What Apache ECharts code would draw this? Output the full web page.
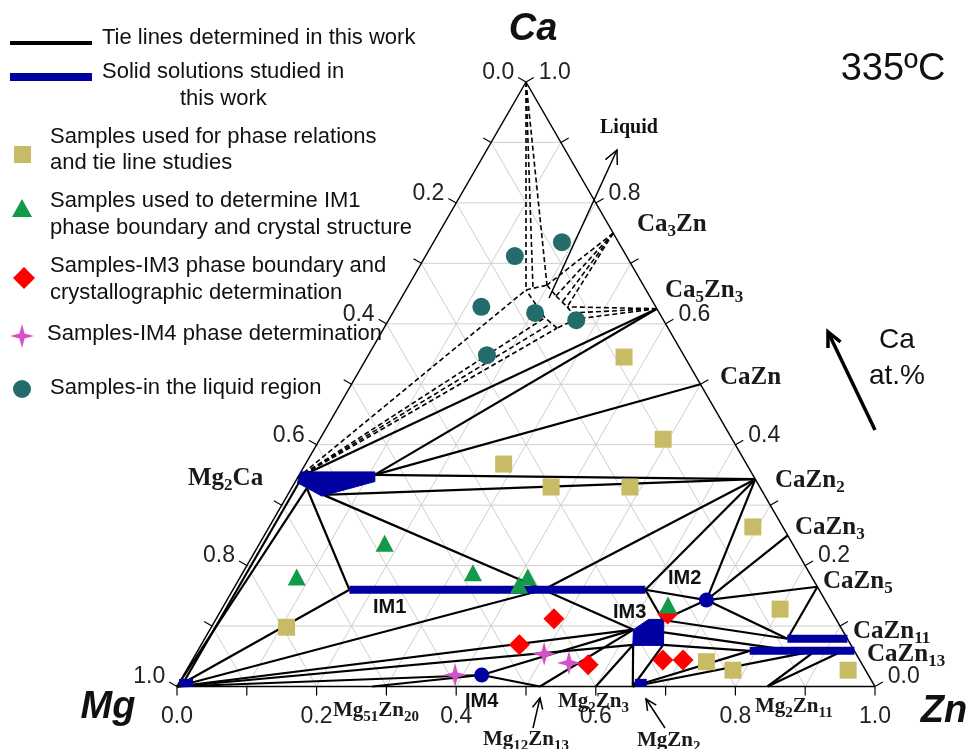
<!DOCTYPE html>
<html>
<head>
<meta charset="utf-8">
<script src="https://cdn.jsdelivr.net/npm/echarts@6/dist/echarts.min.js"></script>
<style>
  html, body { margin: 0; background: #fff; }
  #chart { width: 968px; height: 749px; }
</style>
</head>
<body>
<div id="chart"></div>
<script>
// compositions are [Zn, Ca] mole fractions, Mg = 1 - Zn - Ca
const nodes = {
  Mg: [0, 0], Zn: [1, 0], Ca: [0, 1],
  Mg2Ca_L: [0.0, 0.345], Mg2Ca_E: [0.006, 0.34], Mg_E: [0.006, 0],
  Mg2Ca_R: [0.108, 0.35], Mg2Ca_J: [0.022, 0.328], Mg2Ca_T: [0.051, 0.317],
  Ca3Zn: [0.25, 0.75], Ca5Zn3: [0.375, 0.625], CaZn: [0.5, 0.5],
  CaZn2: [0.657, 0.343], CaZn3: [0.75, 0.25], CaZn5: [0.835, 0.165],
  CaZn11_L: [0.835, 0.079],
  CaZn13_L: [0.791, 0.059], CaZn13_a: [0.855, 0.059], CaZn13_b: [0.885, 0.059], CaZn13_c: [0.925, 0.059],
  IM1_L: [0.167, 0.16], IM1_a: [0.445, 0.16], IM1_R: [0.591, 0.16],
  IM2: [0.687, 0.143],
  IM3_TL: [0.607, 0.094], IM3_BL: [0.619, 0.069], IM3_TR: [0.641, 0.11], IM3_R: [0.65, 0.09], IM3_BR: [0.662, 0.069],
  IM4: [0.427, 0.019],
  Mg51Zn20: [0.28, 0], Mg12Zn13: [0.52, 0], Mg2Zn3: [0.6, 0], MgZn2: [0.653, 0], Mg2Zn11: [0.846, 0],
  // liquid pocket
  L1: [0.172, 0.656], A2: [0.181, 0.658], L2: [0.198, 0.664],
  Lq: [0.22, 0.646], Lr: [0.234, 0.636], L3: [0.245, 0.628], Ls: [0.257, 0.618],
  L4: [0.269, 0.608], L5: [0.248, 0.593], Lt: [0.235, 0.6], L6: [0.222, 0.61]
};

const tieLines = [
  ['Mg2Ca_E', 'Mg_E'], ['Mg2Ca_J', 'Mg'], ['Mg2Ca_J', 'IM1_L'], ['IM1_L', 'Mg'],
  ['Mg2Ca_T', 'IM1_a'], ['Mg', 'IM1_a'], ['CaZn2', 'IM1_a'], ['IM1_a', 'IM3_TL'],
  ['Mg2Ca_R', 'CaZn2'], ['Mg2Ca_T', 'CaZn2'], ['Mg2Ca_R', 'CaZn'], ['Mg2Ca_R', 'Ca5Zn3'], ['Mg2Ca_L', 'Ca5Zn3'],
  ['CaZn2', 'IM1_R'], ['IM1_R', 'IM2'], ['IM1_R', 'IM3_TR'],
  ['CaZn2', 'IM2'], ['IM2', 'CaZn3'], ['IM2', 'CaZn5'], ['IM2', 'IM3_TR'], ['IM2', 'CaZn11_L'],
  ['CaZn5', 'CaZn11_L'], ['IM3_TR', 'CaZn11_L'], ['IM3_R', 'CaZn13_a'], ['IM3_BR', 'CaZn13_L'],
  ['MgZn2', 'IM3_BL'], ['Mg2Zn3', 'IM3_BL'], ['Mg12Zn13', 'IM3_TL'], ['IM4', 'Mg12Zn13'], ['Mg51Zn20', 'IM4'],
  ['Mg', 'IM4'], ['Mg', 'IM3_TL'], ['Mg', 'IM3_BL'], ['IM4', 'IM3_TL'],
  ['MgZn2', 'CaZn13_L'], ['MgZn2', 'CaZn13_b'], ['MgZn2', 'IM3_BR'], ['Mg2Zn11', 'CaZn13_b'], ['Mg2Zn11', 'CaZn13_c']
];

const dashLines = [
  ['Ca', 'L1'], ['Ca', 'A2'], ['Ca', 'L2'],
  ['L1', 'L2'], ['L2', 'Lq'], ['Lq', 'L3'], ['L3', 'L4'], ['L4', 'L5'], ['L5', 'L6'], ['L6', 'L1'],
  ['Ca3Zn', 'L2'], ['Ca3Zn', 'Lq'], ['Ca3Zn', 'Lr'], ['Ca3Zn', 'L3'],
  ['Ca5Zn3', 'L3'], ['Ca5Zn3', 'Ls'], ['Ca5Zn3', 'L4'],
  ['Mg2Ca_L', 'L1'], ['Mg2Ca_L', 'L6'], ['Mg2Ca_L', 'Lt'], ['Mg2Ca_L', 'L5']
];

// solid solutions (blue)
const ssBars = [
  [[0.167, 0.16], [0.591, 0.16]],     // IM1
  [[0.835, 0.079], [0.921, 0.079]],   // CaZn11
  [[0.791, 0.059], [0.941, 0.059]],   // CaZn13
  [[0.0, 0.006], [0.02, 0.006]],      // Mg
  [[0.653, 0.006], [0.67, 0.006]]     // MgZn2
];
const ssAreas = [
  [[0, 0.355], [0.106, 0.355], [0.114, 0.339], [0.05, 0.315], [0.004, 0.337]],        // Mg2Ca
  [[0.619, 0.068], [0.607, 0.094], [0.62, 0.111], [0.642, 0.111], [0.663, 0.068]]     // IM3
];

// samples
const tieSamples = [[0.368, 0.545], [0.492, 0.409], [0.284, 0.368], [0.371, 0.33], [0.484, 0.33], [0.693, 0.264],
  [0.8, 0.128], [0.108, 0.098], [0.738, 0.041], [0.783, 0.027], [0.948, 0.027]];
const im1Samples = [[0.179, 0.237], [0.081, 0.181], [0.33, 0.188], [0.406, 0.168], [0.412, 0.181], [0.636, 0.135]];
const im3Samples = [[0.484, 0.112], [0.456, 0.069], [0.571, 0.036], [0.643, 0.12], [0.674, 0.044], [0.703, 0.044]];
const im4Samples = [[0.389, 0.019], [0.499, 0.054], [0.542, 0.039]];
const liquidSamples = [[0.184, 0.735], [0.128, 0.712], [0.122, 0.628], [0.204, 0.618], [0.269, 0.606], [0.17, 0.548]];
const imPhases = [[0.687, 0.143], [0.427, 0.019]];   // IM2, IM4

const tickValues = [0, 0.1, 0.2, 0.3, 0.4, 0.5, 0.6, 0.7, 0.8, 0.9, 1];
const gridValues = [0.1, 0.2, 0.3, 0.4, 0.5, 0.6, 0.7, 0.8, 0.9];

const S3 = Math.sqrt(3) / 2;
const xy = p => [p[0] + p[1] / 2, p[1] * S3];
const pair = (a, b) => [...xy(a), ...xy(b)];

const BLUE = '#0000a0';

function segSeries(data, style, z) {
  return {
    type: 'custom', silent: true, z: z, data: data,
    encode: { x: [0, 2], y: [1, 3] },
    renderItem: function (params, api) {
      const a = api.coord([api.value(0), api.value(1)]);
      const b = api.coord([api.value(2), api.value(3)]);
      return { type: 'line', shape: { x1: a[0], y1: a[1], x2: b[0], y2: b[1] }, style: style };
    }
  };
}

const gridSegs = [];
gridValues.forEach(v => {
  gridSegs.push(pair([0, v], [1 - v, v]));
  gridSegs.push(pair([v, 0], [v, 1 - v]));
  gridSegs.push(pair([1 - v, 0], [0, 1 - v]));
});
const frameSegs = [pair(nodes.Mg, nodes.Zn), pair(nodes.Zn, nodes.Ca), pair(nodes.Ca, nodes.Mg)];

// ticks: side 0 bottom (Zn), 1 left (Mg), 2 right (Ca)
const tickData = [];
tickValues.forEach(v => {
  tickData.push([...xy([v, 0]), 0, v]);
  tickData.push([...xy([0, 1 - v]), 1, v]);
  tickData.push([...xy([1 - v, v]), 2, v]);
});
const tickDirs = [[0, 1], [-0.866, -0.5], [0.866, -0.5]];

const labelFont = '23px "Liberation Sans", Arial, sans-serif';

const tickSeries = {
  type: 'custom', silent: true, z: 3, data: tickData,
  encode: { x: 0, y: 1 },
  renderItem: function (params, api) {
    const a = api.coord([api.value(0), api.value(1)]);
    const side = api.value(2), v = api.value(3);
    const d = tickDirs[side];
    const b = [a[0] + d[0] * 9, a[1] + d[1] * 9];
    const kids = [{ type: 'line', shape: { x1: a[0], y1: a[1], x2: b[0], y2: b[1] }, style: { stroke: '#000', lineWidth: 1.2 } }];
    if (Math.round(v * 10) % 2 === 0) {
      let tx, ty, al;
      if (side === 0) { tx = b[0]; ty = b[1] + 21; al = 'center'; }
      else if (side === 1) { tx = b[0] - 4; ty = b[1] - 5; al = 'right'; }
      else { tx = b[0] + 5; ty = b[1] - 5; al = 'left'; }
      kids.push({ type: 'text', style: { text: v.toFixed(1), x: tx, y: ty, textAlign: al, align: al,
        textVerticalAlign: 'middle', verticalAlign: 'middle', font: labelFont, fill: '#222' } });
    }
    return { type: 'group', children: kids };
  }
};

const areaSeries = {
  type: 'custom', silent: true, z: 6,
  data: ssAreas.map(poly => xy(poly[0])),
  encode: { x: 0, y: 1 },
  renderItem: function (params, api) {
    const pts = ssAreas[params.dataIndex].map(p => api.coord(xy(p)));
    return { type: 'polygon', shape: { points: pts }, style: { fill: BLUE, stroke: BLUE, lineWidth: 1 } };
  }
};

function scatter(data, symbol, size, color, z) {
  return { type: 'scatter', data: data.map(xy), symbol: symbol, symbolSize: size, z: z, silent: true,
    itemStyle: { color: color, opacity: 1 } };
}
const starPath = 'path://M0,-12 L2.6,-2.6 L12,0 L2.6,2.6 L0,12 L-2.6,2.6 L-12,0 L-2.6,-2.6 Z';

// ---------- annotations ----------
const serif = '"Liberation Serif", "Times New Roman", serif';
const sans = '"Liberation Sans", Arial, sans-serif';
function chem(x, y, text, big, small) {
  const lh = big + 6;
  return { type: 'text', x: x, y: y, silent: true, z: 20,
    style: { text: text, textVerticalAlign: 'middle', verticalAlign: 'middle',
      rich: {
        b: { fontFamily: serif, fontWeight: 'bold', fontSize: big, lineHeight: lh, fill: '#1a1a1a', verticalAlign: 'middle' },
        s: { fontFamily: serif, fontWeight: 'bold', fontSize: small, lineHeight: lh, fill: '#1a1a1a', verticalAlign: 'bottom' }
      } } };
}
function txt(x, y, text, font, align) {
  return { type: 'text', x: x, y: y, silent: true, z: 20,
    style: { text: text, font: font, fill: '#111', textAlign: align || 'left', align: align || 'left',
      textVerticalAlign: 'middle', verticalAlign: 'middle' } };
}
function arrow(x1, y1, x2, y2, w, h) {
  const L = Math.hypot(x2 - x1, y2 - y1), ux = (x2 - x1) / L, uy = (y2 - y1) / L;
  const wing = ang => [x2 - h * (ux * Math.cos(ang) - uy * Math.sin(ang)), y2 - h * (uy * Math.cos(ang) + ux * Math.sin(ang))];
  return [
    { type: 'line', silent: true, z: 20, shape: { x1: x1, y1: y1, x2: x2, y2: y2 }, style: { stroke: '#000', lineWidth: w } },
    { type: 'polyline', silent: true, z: 20, shape: { points: [wing(0.45), [x2, y2], wing(-0.45)] }, style: { stroke: '#000', lineWidth: w, fill: null } }
  ];
}
const starPts = [[0, -12], [2.6, -2.6], [12, 0], [2.6, 2.6], [0, 12], [-2.6, 2.6], [-12, 0], [-2.6, -2.6]].map(p => [22 + p[0], 336 + p[1]]);

const legFont = '22px ' + sans;
const graphics = [
  // legend
  { type: 'line', shape: { x1: 10, y1: 43, x2: 92, y2: 43 }, style: { stroke: '#000', lineWidth: 4 } },
  txt(102, 38, 'Tie lines determined in this work', legFont),
  { type: 'line', shape: { x1: 10, y1: 77, x2: 92, y2: 77 }, style: { stroke: BLUE, lineWidth: 8 } },
  txt(102, 72, 'Solid solutions studied in', legFont),
  txt(180, 99, 'this work', legFont),
  { type: 'rect', shape: { x: 14, y: 146, width: 17, height: 17 }, style: { fill: '#c8bb66' } },
  txt(50, 137, 'Samples used for phase relations', legFont),
  txt(50, 163, 'and tie line studies', legFont),
  { type: 'polygon', shape: { points: [[22, 199], [12, 217], [32, 217]] }, style: { fill: '#12994a' } },
  txt(50, 201, 'Samples used to determine IM1', legFont),
  txt(50, 228, 'phase boundary and crystal structure', legFont),
  { type: 'polygon', shape: { points: [[24, 267], [35, 278], [24, 289], [13, 278]] }, style: { fill: '#ff0000' } },
  txt(50, 266, 'Samples-IM3 phase boundary and', legFont),
  txt(50, 293, 'crystallographic determination', legFont),
  { type: 'polygon', shape: { points: starPts }, style: { fill: '#d452c6' } },
  txt(47, 334, 'Samples-IM4 phase determination', legFont),
  { type: 'circle', shape: { cx: 22, cy: 389, r: 9 }, style: { fill: '#246b6b' } },
  txt(50, 388, 'Samples-in the liquid region', legFont),
  // titles
  txt(893, 70, '335ºC', '38px ' + sans, 'center'),
  txt(897, 340, 'Ca', '28px ' + sans, 'center'),
  txt(897, 376, 'at.%', '28px ' + sans, 'center'),
  txt(533, 30, 'Ca', 'italic bold 38px ' + sans, 'center'),
  txt(108, 708, 'Mg', 'italic bold 38px ' + sans, 'center'),
  txt(944, 712, 'Zn', 'italic bold 38px ' + sans, 'center'),
  // phase names
  chem(188, 479, '{b|Mg}{s|2}{b|Ca}', 25, 17),
  chem(637, 225, '{b|Ca}{s|3}{b|Zn}', 25, 17),
  chem(665, 291, '{b|Ca}{s|5}{b|Zn}{s|3}', 25, 17),
  chem(720, 378, '{b|CaZn}', 25, 17),
  chem(775, 481, '{b|CaZn}{s|2}', 25, 17),
  chem(795, 528, '{b|CaZn}{s|3}', 25, 17),
  chem(823, 582, '{b|CaZn}{s|5}', 25, 17),
  chem(853, 632, '{b|CaZn}{s|11}', 25, 17),
  chem(867, 655, '{b|CaZn}{s|13}', 25, 17),
  chem(333, 711, '{b|Mg}{s|51}{b|Zn}{s|20}', 21, 15),
  chem(558, 702, '{b|Mg}{s|2}{b|Zn}{s|3}', 21, 15),
  chem(483, 740, '{b|Mg}{s|12}{b|Zn}{s|13}', 21, 15),
  chem(637, 741, '{b|MgZn}{s|2}', 21, 15),
  chem(755, 707, '{b|Mg}{s|2}{b|Zn}{s|11}', 21, 15),
  txt(600, 128, 'Liquid', 'bold 20px ' + serif),
  txt(373, 607, 'IM1', 'bold 20px ' + sans),
  txt(668, 578, 'IM2', 'bold 20px ' + sans),
  txt(613, 612, 'IM3', 'bold 20px ' + sans),
  txt(465, 701, 'IM4', 'bold 20px ' + sans)
].concat(
  arrow(549, 298, 617, 150, 1.5, 15),
  arrow(533, 728, 540, 698, 1.5, 12),
  arrow(665, 728, 646, 699, 1.5, 12),
  arrow(875, 430, 828, 332, 3.5, 16)
);

const option = {
  animation: false,
  backgroundColor: '#fff',
  grid: { left: 177, top: 82, width: 698, height: 604.5 },
  xAxis: { type: 'value', min: 0, max: 1, show: false },
  yAxis: { type: 'value', min: 0, max: S3, show: false },
  graphic: graphics,
  series: [
    segSeries(gridSegs, { stroke: '#cfcfcf', lineWidth: 1 }, 1),
    segSeries(frameSegs, { stroke: '#000', lineWidth: 1.5 }, 2),
    tickSeries,
    segSeries(dashLines.map(l => pair(nodes[l[0]], nodes[l[1]])), { stroke: '#000', lineWidth: 1.6, lineDash: [5, 3] }, 4),
    segSeries(tieLines.map(l => pair(nodes[l[0]], nodes[l[1]])), { stroke: '#000', lineWidth: 2.2 }, 5),
    segSeries(ssBars.map(b => pair(b[0], b[1])), { stroke: BLUE, lineWidth: 8 }, 6),
    areaSeries,
    scatter(tieSamples, 'rect', 17, '#c8bb66', 7),
    scatter(im3Samples, 'diamond', 21, '#ff0000', 8),
    scatter(im1Samples, 'triangle', [18, 17], '#12994a', 9),
    scatter(im4Samples, starPath, 24, '#d452c6', 10),
    scatter(liquidSamples, 'circle', 18, '#246b6b', 11),
    scatter(imPhases, 'circle', 15, BLUE, 12)
  ]
};

const chart = echarts.init(document.getElementById('chart'));
chart.setOption(option);
</script>
</body>
</html>
